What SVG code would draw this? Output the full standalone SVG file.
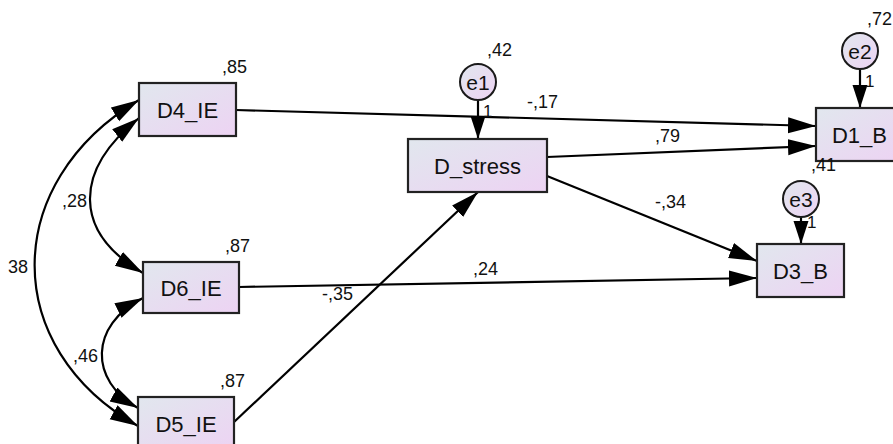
<svg xmlns="http://www.w3.org/2000/svg" width="893" height="444" viewBox="0 0 893 444">
<style>
.box{stroke:#222;stroke-width:2.2;fill:url(#g)}
.circ{stroke:#1a1a1a;stroke-width:2;fill:url(#g)}
.lbl{font-family:"Liberation Sans",Arial,sans-serif;font-size:22px;fill:#111;text-anchor:middle}
.num{font-family:"Liberation Sans",Arial,sans-serif;font-size:18px;fill:#111}
.one{font-family:"Liberation Sans",Arial,sans-serif;font-size:17px;fill:#111}
.ln{stroke:#000;stroke-width:2.2;fill:none}
</style>
<defs>
<linearGradient id="g" x1="0" y1="0" x2="1" y2="1">
<stop offset="0" stop-color="#e1e7ee"/>
<stop offset="1" stop-color="#edd3f3"/>
</linearGradient>
<marker id="ah" markerUnits="userSpaceOnUse" markerWidth="30" markerHeight="18" refX="28" refY="8" orient="auto-start-reverse" viewBox="0 0 30 18">
<path d="M0,0 L28,8 L0,16 Z" fill="#000"/>
</marker>
<marker id="ahs" markerUnits="userSpaceOnUse" markerWidth="26" markerHeight="16" refX="23" refY="7.5" orient="auto-start-reverse" viewBox="0 0 26 16">
<path d="M0,0 L23,7.5 L0,15 Z" fill="#000"/>
</marker>
</defs>
<rect width="893" height="444" fill="#fff"/>
<g id="connectors">
<path class="ln" d="M236,110 L816,126" marker-end="url(#ah)"/>
<path class="ln" d="M547,157 L816,146" marker-end="url(#ah)"/>
<path class="ln" d="M547,176 L757,261" marker-end="url(#ah)"/>
<path class="ln" d="M239,287 L757,278" marker-end="url(#ah)"/>
<path class="ln" d="M234,422 L478,192" marker-end="url(#ah)"/>
<path class="ln" d="M478,100 L478,139" marker-end="url(#ahs)"/>
<path class="ln" d="M860,69 L860,108" marker-end="url(#ahs)"/>
<path class="ln" d="M801,217 L801,244" marker-end="url(#ahs)"/>
<path class="ln" d="M139,100 C0,183 0,348 138,426" marker-start="url(#ah)" marker-end="url(#ah)"/>
<path class="ln" d="M139,118 C73,171 73,232 143,273" marker-start="url(#ah)" marker-end="url(#ah)"/>
<path class="ln" d="M143,298 C89,325 89,381 138,408" marker-start="url(#ah)" marker-end="url(#ah)"/>
<text class="num" x="527" y="108">-,17</text>
<text class="num" x="655" y="142">,79</text>
<text class="num" x="655" y="208">-,34</text>
<text class="num" x="473" y="275">,24</text>
<text class="num" x="322" y="300">-,35</text>
<text class="num" x="62" y="207">,28</text>
<text class="num" x="73" y="362">,46</text>
<text class="num" x="8" y="273">38</text>
<text class="one" x="483" y="117">1</text>
<text class="one" x="865" y="87">1</text>
<text class="one" x="807" y="228">1</text>
</g>
<g id="D4_IE">
<rect class="box" x="139" y="83" width="97" height="53"/>
<text class="lbl" x="187.5" y="117.5">D4_IE</text>
<text class="num" x="222" y="73">,85</text>
</g>
<g id="D6_IE">
<rect class="box" x="143" y="262" width="96" height="51"/>
<text class="lbl" x="191" y="295.5">D6_IE</text>
<text class="num" x="225" y="252">,87</text>
</g>
<g id="D5_IE">
<rect class="box" x="138" y="397" width="96" height="53"/>
<text class="lbl" x="186" y="431.5">D5_IE</text>
<text class="num" x="220" y="387">,87</text>
</g>
<g id="D_stress">
<rect class="box" x="408" y="139" width="139" height="53"/>
<text class="lbl" x="477.5" y="173.5">D_stress</text>
</g>
<g id="D1_B">
<rect class="box" x="816" y="108" width="87" height="53"/>
<text class="lbl" x="859.5" y="142.5">D1_B</text>
</g>
<g id="D3_B">
<rect class="box" x="757" y="244" width="87" height="53"/>
<text class="lbl" x="800.5" y="278.5">D3_B</text>
</g>
<g id="e1">
<circle class="circ" cx="478" cy="82" r="18"/>
<text class="lbl" x="478" y="90" style="font-size:21px">e1</text>
<text class="num" x="487" y="56">,42</text>
</g>
<g id="e2">
<circle class="circ" cx="860" cy="51" r="18"/>
<text class="lbl" x="860" y="59" style="font-size:21px">e2</text>
<text class="num" x="867" y="25">,72</text>
</g>
<g id="e3">
<circle class="circ" cx="801" cy="199" r="18"/>
<text class="lbl" x="801" y="207" style="font-size:21px">e3</text>
<text class="num" x="811" y="171">,41</text>
</g>
</svg>
